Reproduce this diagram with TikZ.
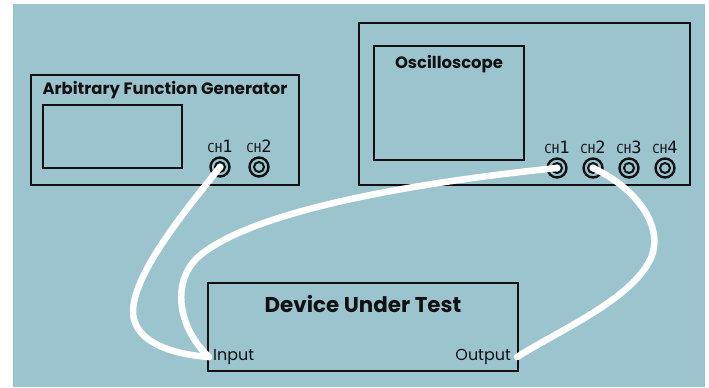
\documentclass[tikz,border=0pt]{standalone}
\usepackage{fontspec}
\setmainfont{Poppins}
\newfontfamily\chfont{DejaVu Sans Mono}
\usetikzlibrary{positioning}
\definecolor{panelblue}{RGB}{155,196,207}
\definecolor{ink}{RGB}{17,17,17}
\tikzset{unit/.style={draw=ink,line width=2.6bp,inner sep=0pt}}
\tikzset{screen/.style={draw=ink,line width=2bp,inner sep=0pt}}
\tikzset{title/.style={text=ink,font=\bfseries\fontsize{16.5}{18}\selectfont,inner sep=0pt}}
\tikzset{port/.style={text=ink,font=\fontsize{16}{18}\selectfont,inner sep=0pt}}
\tikzset{jack/.style={circle,draw=ink,line width=2.4bp,minimum size=19bp,inner sep=0pt}}
\tikzset{chlabel/.style={text=ink,inner sep=0pt,font=\chfont\fontsize{17}{17}\selectfont}}
\tikzset{cable/.style={draw=white,line width=6.5bp,line cap=round}}
\newcommand{\chname}[1]{{\fontsize{12.5}{12.5}\selectfont CH}#1}

\begin{document}
\begin{tikzpicture}[x=1bp,y=-1bp]
        \useasboundingbox (0,0) rectangle (709,387);
        \fill[panelblue] (13,4) rectangle (705,387);
        % function generator
        \node[unit,minimum width=268bp,minimum height=110bp] (afg) at (165,130) {};
        \node[title] (afgtitle) at (165,90) {Arbitrary Function Generator};
        \node[screen,minimum width=139bp,minimum height=63bp] (afgscreen) at (112.5,136.5) {};
        \node[jack] (afgch1) at (220,167) {};
        \node[jack] (afgch2) at (259,167) {};
        \foreach \i in {1,2} {
            \draw[ink,line width=2bp] (afgch\i.center) circle (5);
            \node[chlabel,above=3bp of afgch\i] {\chname{\i}};
        }
        % oscilloscope
        \node[unit,minimum width=331bp,minimum height=162bp] (scope) at (524.5,104) {};
        \node[screen,minimum width=150bp,minimum height=114bp] (scopescreen) at (449,103) {};
        \node[title] (scopetitle) at (449,64) {Oscilloscope};
        \foreach \i/\x in {1/557,2/593,3/629,4/665} {
            \node[jack] (scch\i) at (\x,168) {};
            \draw[ink,line width=2bp] (scch\i.center) circle (5);
            \node[chlabel,above=3bp of scch\i] {\chname{\i}};
        }
        % device under test
        \node[unit,minimum width=310bp,minimum height=88bp] (dut) at (363,327) {};
        \node[title,font=\bfseries\fontsize{21.5}{23}\selectfont] (duttitle) at (363,304) {Device Under Test};
        \node[port,anchor=west] (input) at (213,357) {Input};
        \node[port,anchor=east] (output) at (511,357) {Output};
        \coordinate (inend) at (209,357);
        \coordinate (outend) at (517,357);
        % cables
        \path[cable] (afgch1.center) .. controls (190,205) and (135,270) .. (133,310)
            .. controls (132,345) and (180,355) .. (inend);
        \path[cable] (scch1.center) .. controls (420,182) and (250,210) .. (197,258)
            .. controls (170,285) and (180,330) .. (inend);
        \path[cable] (scch2.center) .. controls (640,190) and (665,230) .. (650,260)
            .. controls (630,300) and (560,330) .. (outend);
    \end{tikzpicture}
\end{document}
